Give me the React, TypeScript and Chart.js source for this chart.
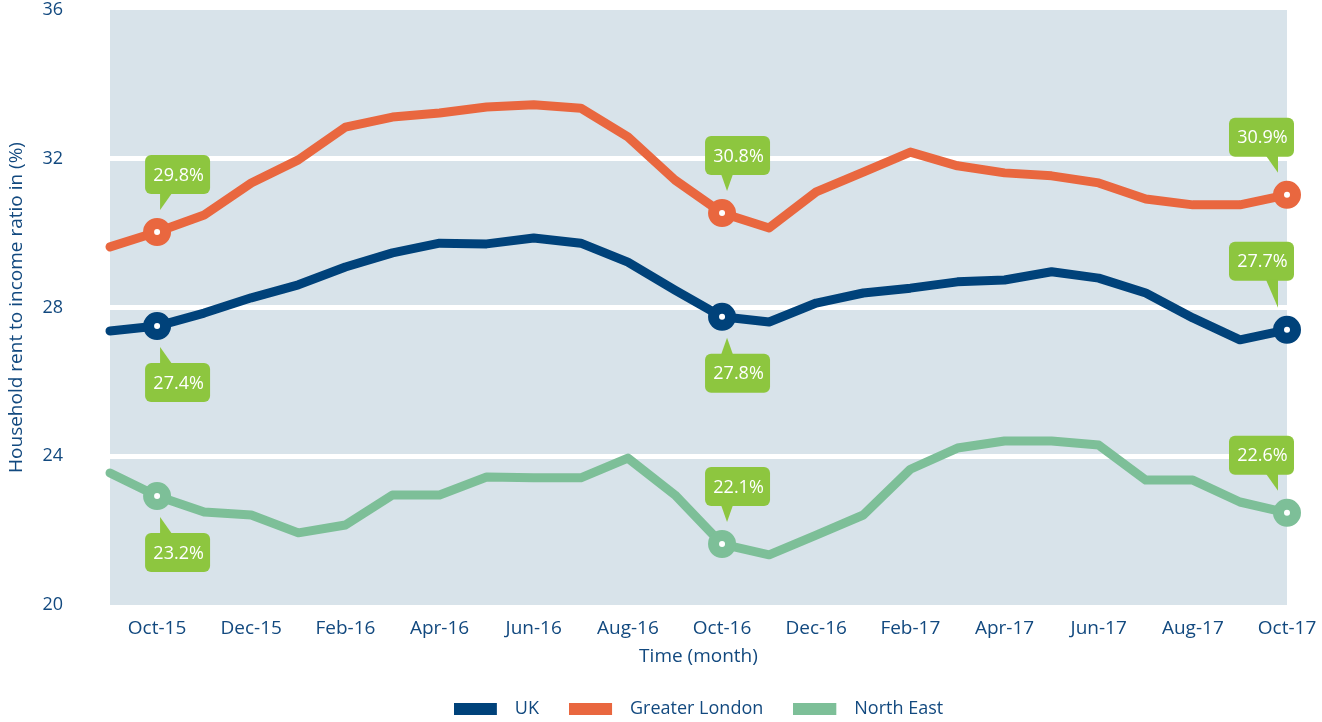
import React, { useEffect, useRef } from 'react';
import { Chart, registerables } from 'chart.js';

Chart.register(...registerables);

// ---- Data ----
const months = [
  'Sep-15', 'Oct-15', 'Nov-15', 'Dec-15', 'Jan-16', 'Feb-16', 'Mar-16', 'Apr-16', 'May-16',
  'Jun-16', 'Jul-16', 'Aug-16', 'Sep-16', 'Oct-16', 'Nov-16', 'Dec-16', 'Jan-17', 'Feb-17',
  'Mar-17', 'Apr-17', 'May-17', 'Jun-17', 'Jul-17', 'Aug-17', 'Sep-17', 'Oct-17',
];

const ukValues = [
  27.37, 27.5, 27.85, 28.26, 28.61, 29.09, 29.47, 29.73, 29.71, 29.87, 29.73, 29.22, 28.47,
  27.75, 27.61, 28.12, 28.39, 28.52, 28.69, 28.74, 28.96, 28.79, 28.39, 27.72, 27.13, 27.4,
];

const londonValues = [
  29.63, 30.03, 30.49, 31.35, 31.97, 32.85, 33.12, 33.23, 33.39, 33.45, 33.36, 32.59, 31.43,
  30.54, 30.14, 31.11, 31.64, 32.18, 31.81, 31.62, 31.54, 31.35, 30.92, 30.76, 30.76, 31.03,
];

const northEastValues = [
  23.55, 22.93, 22.5, 22.42, 21.94, 22.15, 22.96, 22.96, 23.44, 23.42, 23.42, 23.95, 22.96,
  21.64, 21.35, 21.88, 22.42, 23.65, 24.22, 24.41, 24.41, 24.3, 23.36, 23.36, 22.77, 22.48,
];

const seriesNames = ['UK', 'Greater London', 'North East'];

const yTicks = [20, 24, 28, 32, 36];

// months that carry a marker and a value callout
const markedMonths = ['Oct-15', 'Oct-16', 'Oct-17'];

// callouts: series index, month, text, side
const calloutSeries = [1, 0, 2, 1, 0, 2, 1, 0, 2];
const calloutMonths = ['Oct-15', 'Oct-15', 'Oct-15', 'Oct-16', 'Oct-16', 'Oct-16', 'Oct-17', 'Oct-17', 'Oct-17'];
const calloutTexts = ['29.8%', '27.4%', '23.2%', '30.8%', '27.8%', '22.1%', '30.9%', '27.7%', '22.6%'];
const calloutSides = ['above', 'below', 'below', 'above', 'below', 'above', 'above', 'above', 'above'];

// ---- Styling ----
const COLORS = ['#00427a', '#e9673f', '#7dbf98'];
const TEXT = '#12497f';
const PLOT_BG = '#d8e3ea';
const CALLOUT = '#8dc63f';
const FONT = "'Open Sans', sans-serif";

const plotBgPlugin = {
  id: 'plotBg',
  beforeDraw(chart: any) {
    const { ctx, chartArea: a } = chart;
    ctx.save();
    ctx.fillStyle = PLOT_BG;
    ctx.fillRect(a.left, a.top, a.right - a.left, a.bottom - a.top);
    ctx.restore();
  },
};

const calloutPlugin = {
  id: 'callouts',
  afterDatasetsDraw(chart: any) {
    const ctx = chart.ctx;
    const last = months.length - 1;
    const w = 65;
    const h = 39;
    ctx.save();
    calloutTexts.forEach((text, k) => {
      const idx = months.indexOf(calloutMonths[k]);
      const el = chart.getDatasetMeta(calloutSeries[k]).data[idx];
      if (!el) return;
      const x = el.x;
      const y = el.y;
      const shape = idx === last ? 'right' : idx <= 1 ? 'left' : 'center';
      const boxLeft = shape === 'left' ? x - 12 : shape === 'center' ? x - 17 : x - 58;
      const tipX = shape === 'left' ? x + 3 : shape === 'center' ? x + 5 : x - 9;
      const above = calloutSides[k] === 'above';
      const stem = above && calloutSeries[k] === 0 && idx === last ? 27 : 16;
      const tipY = above ? y - 22 : y + 21;
      const edge = above ? tipY - stem : tipY + stem;
      const boxTop = above ? edge - h : edge;

      ctx.fillStyle = CALLOUT;
      ctx.beginPath();
      (ctx as any).roundRect(boxLeft, boxTop, w, h, 6);
      ctx.fill();

      const e2 = above ? edge - 1 : edge + 1;
      ctx.beginPath();
      if (shape === 'left') {
        ctx.moveTo(tipX, e2);
        ctx.lineTo(tipX + 12, e2);
        ctx.lineTo(tipX, tipY);
      } else if (shape === 'center') {
        ctx.moveTo(tipX - 6, e2);
        ctx.lineTo(tipX + 6, e2);
        ctx.lineTo(tipX, tipY);
      } else {
        ctx.moveTo(tipX - 12, e2);
        ctx.lineTo(tipX, e2);
        ctx.lineTo(tipX, tipY);
      }
      ctx.closePath();
      ctx.fill();

      ctx.fillStyle = '#ffffff';
      ctx.font = `18px ${FONT}`;
      ctx.textAlign = 'center';
      ctx.textBaseline = 'middle';
      ctx.fillText(text, boxLeft + w / 2 + 1, boxTop + h / 2 + 1);
    });
    ctx.restore();
  },
};

function makeSwatch(color: string) {
  const c = document.createElement('canvas');
  c.width = 52;
  c.height = 12;
  const g = c.getContext('2d')!;
  g.fillStyle = color;
  g.fillRect(0, 0, 43, 12);
  return c;
}

export default function App() {
  const canvasRef = useRef<HTMLCanvasElement | null>(null);

  useEffect(() => {
    document.body.style.margin = '0';
    const canvas = canvasRef.current;
    if (!canvas) return;
    const swatches = COLORS.map(makeSwatch);
    const markerIdx = markedMonths.map((m) => months.indexOf(m));
    const values = [ukValues, londonValues, northEastValues];

    const chart = new Chart(canvas, {
      type: 'line',
      data: {
        labels: months,
        datasets: values.map((v, i) => ({
          label: seriesNames[i],
          data: v,
          borderColor: COLORS[i],
          backgroundColor: COLORS[i],
          borderWidth: 9,
          borderCapStyle: 'round',
          borderJoinStyle: 'round',
          tension: 0,
          clip: false,
          pointRadius: (c: any) => (markerIdx.includes(c.dataIndex) ? 8.5 : 0),
          pointHoverRadius: (c: any) => (markerIdx.includes(c.dataIndex) ? 8.5 : 0),
          pointBorderWidth: 11,
          pointHoverBorderWidth: 11,
          pointBackgroundColor: '#ffffff',
          pointBorderColor: COLORS[i],
        })),
      } as any,
      options: {
        animation: false,
        responsive: false,
        devicePixelRatio: 1,
        events: [],
        layout: { autoPadding: false, padding: { top: 10, left: 0, right: 35, bottom: -6 } },
        plugins: {
          tooltip: { enabled: false },
          legend: {
            position: 'bottom',
            fullSize: false,
            labels: {
              usePointStyle: true,
              pointStyleWidth: 52,
              boxHeight: 12,
              padding: 30,
              color: TEXT,
              font: { family: FONT, size: 18 },
              generateLabels: (ch: any) =>
                ch.data.datasets.map((ds: any, i: number) => ({
                  text: ds.label,
                  fillStyle: COLORS[i],
                  strokeStyle: COLORS[i],
                  lineWidth: 0,
                  pointStyle: swatches[i],
                  hidden: false,
                  datasetIndex: i,
                  fontColor: TEXT,
                })),
            },
          },
        },
        scales: {
          x: {
            type: 'category',
            offset: false,
            grid: { display: false, drawTicks: false },
            border: { display: false },
            ticks: {
              autoSkip: false,
              maxRotation: 0,
              minRotation: 0,
              padding: 12,
              color: TEXT,
              font: { family: FONT, size: 19 },
              callback: (_v: any, i: number) => (i % 2 === 1 ? months[i] : ''),
            },
            title: {
              display: true,
              text: 'Time (month)',
              color: TEXT,
              font: { family: FONT, size: 19 },
              padding: { top: 0, bottom: 2 },
            },
            afterFit: (s: any) => {
              s.height = 65;
              s.paddingLeft = 0;
              s.paddingRight = 0;
            },
          },
          y: {
            min: yTicks[0],
            max: yTicks[yTicks.length - 1],
            afterBuildTicks: (s: any) => {
              s.ticks = yTicks.map((v) => ({ value: v }));
            },
            grid: {
              drawTicks: false,
              lineWidth: 5,
              color: (c: any) =>
                c.tick && (c.tick.value === yTicks[0] || c.tick.value === yTicks[yTicks.length - 1])
                  ? 'rgba(0,0,0,0)'
                  : '#ffffff',
            },
            border: { display: false },
            ticks: {
              padding: 47,
              color: TEXT,
              font: { family: FONT, size: 18, lineHeight: 1 },
            },
            title: {
              display: true,
              text: 'Household rent to income ratio in (%)',
              color: TEXT,
              font: { family: FONT, size: 19 },
              padding: { top: 5, bottom: 0 },
            },
            afterFit: (s: any) => {
              s.width = 110;
              s.paddingTop = 0;
              s.paddingBottom = 0;
            },
          },
        },
      } as any,
      plugins: [plotBgPlugin, calloutPlugin],
    });

    return () => chart.destroy();
  }, []);

  return (
    <div style={{ width: 1322, height: 722 }}>
      <canvas ref={canvasRef} width={1322} height={722} style={{ display: 'block' }} />
    </div>
  );
}
